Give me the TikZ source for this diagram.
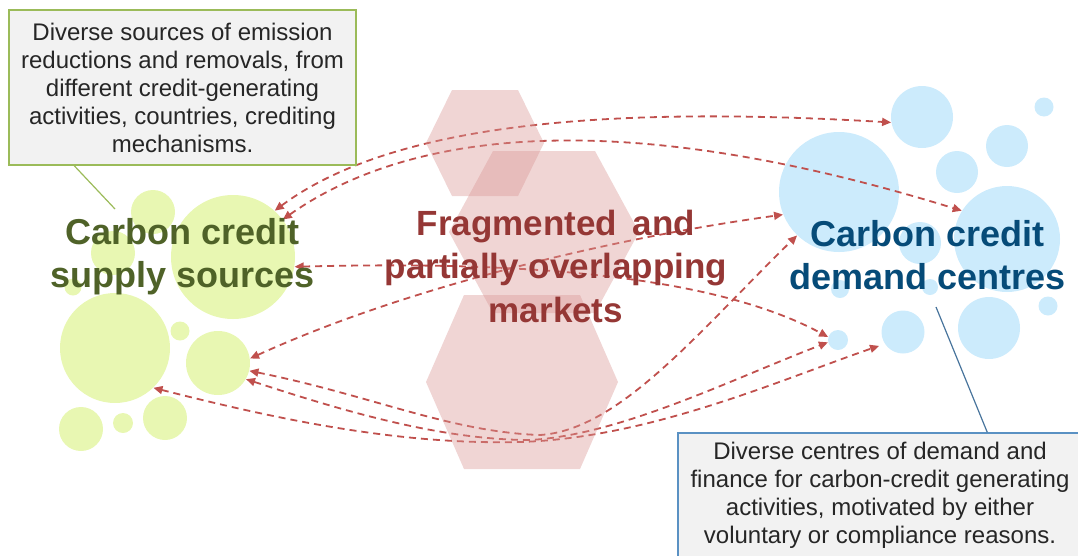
\documentclass[tikz,border=0pt]{standalone}
\usepackage{fontspec}
\setmainfont{Liberation Sans}
\usetikzlibrary{arrows.meta}
\definecolor{supgreen}{RGB}{232,247,178}
\definecolor{demblue}{RGB}{204,235,252}
\definecolor{hexred}{RGB}{217,150,148}
\definecolor{linkred}{RGB}{192,80,77}
\definecolor{suptext}{RGB}{79,98,40}
\definecolor{mkttext}{RGB}{149,55,53}
\definecolor{demtext}{RGB}{6,75,120}
\definecolor{greenedge}{RGB}{155,187,89}
\definecolor{blueedge}{RGB}{90,145,195}
\definecolor{boxgray}{RGB}{242,242,242}
\tikzset{every picture/.style={line width=0.75pt}}
% hexagon: centre x, centre y, half width, half top edge, half height
\newcommand{\hexa}[5]{\fill[hexfill] ({#1-#3},#2) -- ({#1-#4},{#2-#5}) -- ({#1+#4},{#2-#5}) -- ({#1+#3},#2) -- ({#1+#4},{#2+#5}) -- ({#1-#4},{#2+#5}) -- cycle;}

\begin{document}
\begin{tikzpicture}[x=1pt,y=-1pt,
    sup/.style={circle, fill=supgreen, inner sep=0pt},
    dem/.style={circle, fill=demblue, inner sep=0pt},
    hexfill/.style={fill=hexred, fill opacity=0.4},
    link/.style={{Triangle[length=9pt,width=8pt]}-{Triangle[length=9pt,width=8pt]}, draw=linkred, line width=1.8pt, dash pattern=on 7pt off 5pt},
    callout/.style={fill=boxgray, line width=1.5pt, align=center, inner sep=0pt, text=black!85, font=\fontsize{24}{28}\selectfont},
    title/.style={align=center, font=\fontsize{36}{43}\selectfont\bfseries}]
    \useasboundingbox (0,0) rectangle (1078,555);
    % supply side
    \node[sup, minimum size=44pt] (s1) at (153,212) {};
    \node[sup, minimum size=124pt] (s2) at (233,257) {};
    \node[sup, minimum size=44pt] (s3) at (113,253) {};
    \node[sup, minimum size=17pt] (s4) at (73,287) {};
    \node[sup, minimum size=110pt] (s5) at (115,348) {};
    \node[sup, minimum size=19pt] (s6) at (180,331) {};
    \node[sup, minimum size=64pt] (s7) at (218,363) {};
    \node[sup, minimum size=44pt] (s8) at (81,429) {};
    \node[sup, minimum size=20pt] (s9) at (123,423) {};
    \node[sup, minimum size=44pt] (s10) at (165,418) {};
    % demand side
    \node[dem, minimum size=62pt] (d1) at (922,117) {};
    \node[dem, minimum size=19pt] (d2) at (1044,107) {};
    \node[dem, minimum size=42pt] (d3) at (1007,146) {};
    \node[dem, minimum size=42pt] (d4) at (957,172) {};
    \node[dem, minimum size=120pt] (d5) at (839,192) {};
    \node[dem, minimum size=106pt] (d6) at (1007,239) {};
    \node[dem, minimum size=42pt] (d7) at (920,243) {};
    \node[dem, minimum size=18pt] (d8) at (840,289) {};
    \node[dem, minimum size=16pt] (d9) at (930,287) {};
    \node[dem, minimum size=19pt] (d13) at (1048,306) {};
    \node[dem, minimum size=43pt] (d10) at (903,332) {};
    \node[dem, minimum size=62pt] (d11) at (989,328) {};
    \node[dem, minimum size=20pt] (d12) at (838,340) {};
    % links
    \draw[link] (s2.48) .. controls (390,125) and (600,105) .. (d1.190);
    \draw[link] (s2.37) .. controls (410,130) and (620,105) .. (d6.148);
    \draw[link] (s2.-9) .. controls (480,262) and (700,268) .. (d12.163);
    \draw[link] (s7.8) .. controls (400,290) and (600,240) .. (d5.202);
    \draw[link] (s7.-14) .. controls (370,395) and (450,432) .. (540,435) .. controls (620,430) and (700,330) .. (d5.226);
    \draw[link] (s7.-30) .. controls (340,410) and (440,440) .. (530,440) .. controls (620,435) and (730,380) .. (d12.193);
    \draw[link, shorten >=6pt] (s5.-46) .. controls (280,420) and (400,445) .. (520,442) .. controls (650,438) and (780,380) .. (d10.213);
    % markets
    \hexa{485}{143}{59}{33}{53}
    \hexa{544}{232}{95}{51}{81}
    \hexa{522}{382}{96}{58}{87}
    % notes
    \node[callout, draw=greenedge, minimum width=347pt, minimum height=155pt] (srcnote) at (182.5,87.5)
        {Diverse sources of emission\\reductions and removals, from\\different credit-generating\\activities, countries, crediting\\mechanisms.};
    \coordinate (srcpin) at (115,209);
    \draw[greenedge, line width=1.2pt] ([xshift=66pt]srcnote.south west) -- (srcpin);
    \node[callout, draw=blueedge, minimum width=404pt, minimum height=125pt] (demnote) at (880,495.5)
        {Diverse centres of demand and\\finance for carbon-credit generating\\activities, motivated by either\\voluntary or compliance reasons.};
    \coordinate (dempin) at (936,307);
    \draw[blueedge!80!black, line width=1.2pt] ([xshift=310pt]demnote.north west) -- (dempin);
    % titles
    \node[title, text=suptext] (supply) at (182.5,257) {Carbon credit\\supply sources};
    \node[title, text=mkttext, font=\fontsize{35}{43.5}\selectfont\bfseries] (market) at (556,266) {Fragmented\hspace{0.45em}and\\partially overlapping\\markets};
    \node[title, text=demtext] (demand) at (927.5,255.5) {Carbon credit\\demand centres};
\end{tikzpicture}
\end{document}
